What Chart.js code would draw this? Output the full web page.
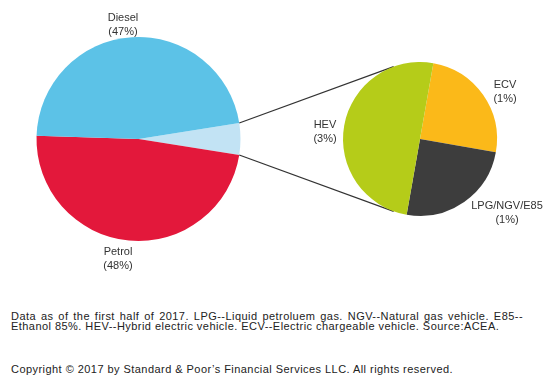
<!DOCTYPE html>
<html>
<head>
<meta charset="utf-8">
<script src="https://cdn.jsdelivr.net/npm/chart.js@4.4.0/dist/chart.umd.min.js"></script>
<style>
  html, body { margin: 0; padding: 0; background: #fff; }
  #wrap { position: relative; width: 549px; height: 387px; overflow: hidden; font-family: "Liberation Sans", Arial, sans-serif; color: #333; }
  canvas { position: absolute; left: 0; top: 0; }
  .lbl { position: absolute; font-size: 11px; line-height: 14px; text-align: center; white-space: nowrap; transform: translateX(-50%); }
  .note { position: absolute; left: 11px; font-size: 11px; line-height: 10px; letter-spacing: 0.45px; white-space: nowrap; color: #222; }
  .note.just { width: 512px; white-space: normal; text-align: justify; text-align-last: justify; }
</style>
</head>
<body>
<div id="wrap">
  <canvas id="mainPie" width="549" height="290"></canvas>
  <canvas id="subPie" width="549" height="290"></canvas>
</div>
<script>
// main pie: the small slice is broken out into the second pie
const mainLabels = ['Other', 'Petrol', 'Diesel'];
const mainShares = [5, 48, 47];
const mainColors = ['#c2e3f4', '#e3183b', '#5cc2e7'];

// breakdown of the "Other" slice (slice sizes, labels as printed)
const subLabels = ['ECV', 'LPG/NGV/E85', 'HEV'];
const subShares = [1.25, 1.25, 2.5];
const subPct = [1, 1, 3];
const subColors = ['#fbb919', '#3d3d3d', '#b5cc19'];

const footLines = [
  'Data as of the first half of 2017. LPG--Liquid petroluem gas. NGV--Natural gas vehicle. E85--',
  'Ethanol 85%. HEV--Hybrid electric vehicle.  ECV--Electric chargeable vehicle. Source:ACEA.'
];
const copyright = 'Copyright \u00a9 2017 by Standard & Poor\u2019s Financial Services LLC. All rights reserved.';

const baseOpts = {
  responsive: false,
  animation: false,
  plugins: { legend: { display: false }, tooltip: { enabled: false } }
};

const mainChart = new Chart(document.getElementById('mainPie'), {
  type: 'pie',
  data: {
    labels: mainLabels,
    datasets: [{ data: mainShares, backgroundColor: mainColors, borderWidth: 0 }]
  },
  options: Object.assign({}, baseOpts, {
    rotation: 81,
    layout: { padding: { left: 36, right: 308, top: 37, bottom: 49 } }
  })
});

// connector lines from the "Other" slice to the second pie
const connectorAngle = 110 * Math.PI / 180;
const connectors = {
  id: 'connectors',
  beforeDatasetsDraw(chart) {
    const src = mainChart.getDatasetMeta(0).data[0];
    const dst = chart.getDatasetMeta(0).data[0];
    const s = src.getProps(['x', 'y', 'startAngle', 'endAngle', 'outerRadius']);
    const d = dst.getProps(['x', 'y', 'outerRadius']);
    const ctx = chart.ctx;
    ctx.save();
    ctx.strokeStyle = '#333';
    ctx.lineWidth = 1.2;
    [[s.startAngle, -connectorAngle], [s.endAngle, connectorAngle]].forEach(([a, b]) => {
      ctx.beginPath();
      ctx.moveTo(s.x + s.outerRadius * Math.cos(a), s.y + s.outerRadius * Math.sin(a));
      ctx.lineTo(d.x + d.outerRadius * Math.cos(b), d.y + d.outerRadius * Math.sin(b));
      ctx.stroke();
    });
    ctx.restore();
  }
};

new Chart(document.getElementById('subPie'), {
  type: 'pie',
  data: {
    labels: subLabels,
    datasets: [{ data: subShares, backgroundColor: subColors, borderWidth: 0 }]
  },
  options: Object.assign({}, baseOpts, {
    rotation: 10,
    layout: { padding: { left: 343, right: 52, top: 62, bottom: 74 } }
  }),
  plugins: [connectors]
});

// slice labels
const wrap = document.getElementById('wrap');
function addLabel(text, cx, top) {
  const el = document.createElement('div');
  el.className = 'lbl';
  el.style.left = cx + 'px';
  el.style.top = top + 'px';
  el.innerHTML = text;
  wrap.appendChild(el);
}
addLabel(mainLabels[2] + '<br>(' + mainShares[2] + '%)', 123, 10);
addLabel(mainLabels[1] + '<br>(' + mainShares[1] + '%)', 118, 244);
addLabel(subLabels[2] + '<br>(' + subPct[2] + '%)', 325, 117);
addLabel(subLabels[0] + '<br>(' + subPct[0] + '%)', 505, 77);
addLabel(subLabels[1] + '<br>(' + subPct[1] + '%)', 507, 198);

// footnote and copyright
function addNote(text, top, cls) {
  const el = document.createElement('div');
  el.className = 'note' + (cls ? ' ' + cls : '');
  el.style.top = top + 'px';
  el.textContent = text;
  wrap.appendChild(el);
  return el;
}
addNote(footLines[0], 311, 'just');
addNote(footLines[1], 321);
addNote(copyright, 364);
</script>
</body>
</html>
